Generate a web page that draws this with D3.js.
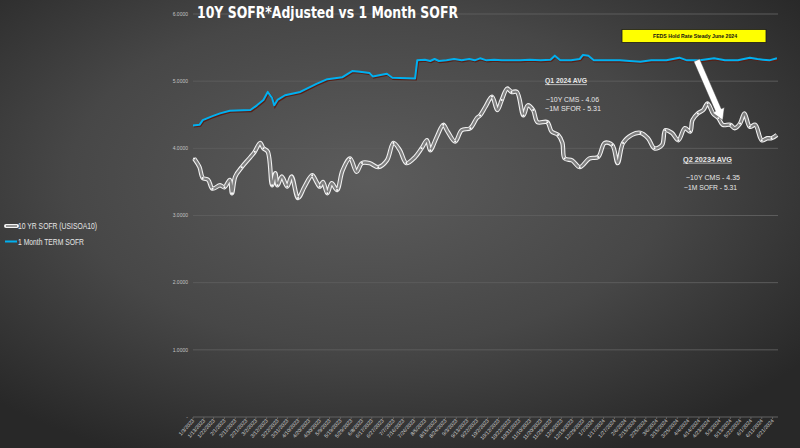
<!DOCTYPE html>
<html><head><meta charset="utf-8">
<script src="https://cdn.jsdelivr.net/npm/d3@7"></script>
<style>html,body{margin:0;padding:0;background:#333;} svg{display:block}</style>
</head><body>
<svg id="c" width="800" height="448"></svg>
<script>
// ---------- DATA ----------
const sofr10Dates = ["2023-01-04","2023-01-09","2023-01-12","2023-01-17","2023-01-21","2023-01-28","2023-02-01","2023-02-06","2023-02-08","2023-02-11","2023-02-17","2023-02-25","2023-03-01","2023-03-06","2023-03-09","2023-03-13","2023-03-17","2023-03-20","2023-03-22","2023-03-26","2023-03-31","2023-04-04","2023-04-10","2023-04-16","2023-04-23","2023-04-27","2023-04-30","2023-05-03","2023-05-07","2023-05-11","2023-05-16","2023-05-21","2023-05-28","2023-06-03","2023-06-08","2023-06-15","2023-06-23","2023-07-01","2023-07-07","2023-07-13","2023-07-19","2023-07-27","2023-08-02","2023-08-07","2023-08-10","2023-08-16","2023-08-22","2023-08-26","2023-09-02","2023-09-08","2023-09-16","2023-09-22","2023-09-25","2023-09-30","2023-10-06","2023-10-11","2023-10-15","2023-10-20","2023-10-24","2023-10-29","2023-11-04","2023-11-08","2023-11-13","2023-11-17","2023-11-26","2023-11-30","2023-12-06","2023-12-10","2023-12-12","2023-12-19","2023-12-26","2024-01-04","2024-01-12","2024-01-18","2024-01-25","2024-01-30","2024-02-04","2024-02-12","2024-02-20","2024-02-27","2024-03-04","2024-03-11","2024-03-14","2024-03-20","2024-03-26","2024-04-01","2024-04-06","2024-04-08","2024-04-13","2024-04-18","2024-04-22","2024-04-27","2024-05-02","2024-05-06","2024-05-13","2024-05-17","2024-05-22","2024-05-26","2024-05-31","2024-06-05","2024-06-11","2024-06-16","2024-06-20","2024-06-25"];
const sofr10Values = [3.85,3.72,3.56,3.53,3.40,3.45,3.42,3.53,3.33,3.58,3.72,3.87,3.95,4.08,4.00,3.95,3.45,3.63,3.45,3.58,3.43,3.58,3.26,3.43,3.60,3.50,3.43,3.50,3.33,3.48,3.38,3.67,3.85,3.65,3.78,3.78,3.72,3.82,4.08,3.97,3.78,3.87,4.00,4.12,3.97,4.17,4.35,4.25,4.10,4.27,4.30,4.45,4.49,4.62,4.77,4.57,4.72,4.89,4.84,4.84,4.49,4.64,4.57,4.39,4.39,4.25,4.20,4.08,3.85,3.82,3.72,3.85,3.87,4.08,4.05,3.78,4.08,4.20,4.23,4.15,4.00,4.05,4.27,4.23,4.12,4.30,4.25,4.42,4.52,4.57,4.67,4.52,4.45,4.35,4.35,4.30,4.37,4.52,4.32,4.35,4.12,4.15,4.15,4.20];

const term1mDates = ["2023-01-03","2023-01-09","2023-01-12","2023-01-21","2023-01-28","2023-02-06","2023-02-25","2023-03-03","2023-03-09","2023-03-13","2023-03-17","2023-03-19","2023-03-22","2023-03-29","2023-04-12","2023-04-27","2023-05-07","2023-05-21","2023-05-30","2023-06-06","2023-06-15","2023-06-18","2023-07-01","2023-07-06","2023-07-27","2023-07-29","2023-08-05","2023-08-10","2023-08-14","2023-08-18","2023-08-25","2023-09-01","2023-09-08","2023-09-15","2023-09-20","2023-09-25","2023-10-01","2023-10-08","2023-10-15","2023-10-22","2023-11-01","2023-11-10","2023-11-20","2023-11-29","2023-12-03","2023-12-08","2023-12-18","2023-12-26","2023-12-29","2024-01-03","2024-01-08","2024-01-20","2024-02-01","2024-02-10","2024-02-20","2024-03-01","2024-03-15","2024-03-27","2024-04-03","2024-04-15","2024-04-28","2024-05-08","2024-05-20","2024-05-31","2024-06-07","2024-06-12","2024-06-18","2024-06-25"];
const term1mValues = [4.34,4.35,4.42,4.48,4.52,4.56,4.57,4.64,4.72,4.84,4.75,4.64,4.72,4.79,4.84,4.96,5.03,5.06,5.15,5.14,5.12,5.07,5.11,5.05,5.04,5.31,5.32,5.30,5.33,5.30,5.31,5.33,5.31,5.33,5.31,5.34,5.31,5.32,5.31,5.31,5.31,5.32,5.31,5.32,5.38,5.31,5.31,5.33,5.39,5.38,5.31,5.31,5.31,5.30,5.29,5.31,5.31,5.35,5.31,5.31,5.34,5.31,5.31,5.35,5.33,5.32,5.31,5.34];

const yTicks = [0,1,2,3,4,5,6];
const yTickLabels = ["-","1.0000","2.0000","3.0000","4.0000","5.0000","6.0000"];
const xTickLabels = ["1/3/2023","1/13/2023","1/22/2023","2/1/2023","2/11/2023","2/21/2023","3/2/2023","3/12/2023","3/22/2023","3/31/2023","4/10/2023","4/20/2023","4/30/2023","5/9/2023","5/19/2023","5/29/2023","6/8/2023","6/17/2023","6/27/2023","7/7/2023","7/16/2023","7/26/2023","8/5/2023","8/15/2023","8/24/2023","9/3/2023","9/13/2023","9/22/2023","10/2/2023","10/12/2023","10/22/2023","10/31/2023","11/10/2023","11/20/2023","11/29/2023","12/9/2023","12/19/2023","12/29/2023","1/7/2024","1/17/2024","1/27/2024","2/6/2024","2/15/2024","2/25/2024","3/6/2024","3/15/2024","3/25/2024","4/4/2024","4/14/2024","4/23/2024","5/3/2024","5/13/2024","5/22/2024","6/1/2024","6/11/2024","6/21/2024"];
const xDomain = ["2023-01-03","2024-06-26"];

const seriesNames = ["10 YR SOFR (USISOA10)","1 Month TERM SOFR"];
const titleText = "10Y SOFR*Adjusted vs 1 Month SOFR";

// ---------- SETUP ----------
const W = 800, H = 448;
const svg = d3.select("#c");
const parseISO = d3.timeParse("%Y-%m-%d");
const parseMDY = d3.timeParse("%m/%d/%Y");

const defs = svg.append("defs");
const rg = defs.append("radialGradient").attr("id","bg")
  .attr("cx","46%").attr("cy","40%").attr("r","68%");
rg.append("stop").attr("offset","0%").attr("stop-color","#5c5c5c");
rg.append("stop").attr("offset","55%").attr("stop-color","#474747");
rg.append("stop").attr("offset","100%").attr("stop-color","#282828");
svg.append("rect").attr("width",W).attr("height",H).attr("fill","url(#bg)");

const x = d3.scaleTime().domain(xDomain.map(parseISO)).range([193, 778]);
const y = d3.scaleLinear().domain([0, 6]).range([417, 14]);

// gridlines
svg.append("g").selectAll("line").data(yTicks.filter(d => d > 0)).join("line")
  .attr("x1", 193).attr("x2", 778)
  .attr("y1", d => y(d)).attr("y2", d => y(d))
  .attr("stroke", "#5c5c5c").attr("stroke-width", 1);

// y tick labels
svg.append("g").selectAll("text").data(yTicks).join("text")
  .attr("x", 188).attr("y", d => y(d)).attr("dy", "0.35em")
  .attr("text-anchor", "end")
  .attr("font-family", "Liberation Sans, Arial, sans-serif")
  .attr("font-size", 5).attr("fill", "#c4c4c4")
  .text((d, i) => yTickLabels[i]);

// x axis baseline + ticks
svg.append("line").attr("x1", 193).attr("x2", 778).attr("y1", y(0)).attr("y2", y(0))
  .attr("stroke", "#626262").attr("stroke-width", 1);
const xt = xTickLabels.map(parseMDY);
svg.append("g").selectAll("line").data(xt).join("line")
  .attr("x1", d => x(d)).attr("x2", d => x(d))
  .attr("y1", y(0)).attr("y2", y(0) + 2)
  .attr("stroke", "#626262");
svg.append("g").selectAll("text").data(xt).join("text")
  .attr("transform", d => `translate(${x(d) + 1.5},${y(0) + 4}) rotate(-48)`)
  .attr("text-anchor", "end")
  .attr("font-family", "Liberation Sans, Arial, sans-serif")
  .attr("font-size", 5.2).attr("fill", "#d2d2d2")
  .text((d, i) => xTickLabels[i]);

// ---------- SERIES ----------
const blueData = term1mDates.map((d, i) => ({ date: parseISO(d), v: term1mValues[i] }));
const whiteData = sofr10Dates.map((d, i) => ({ date: parseISO(d), v: sofr10Values[i] }));

const lineLin = d3.line().x(d => x(d.date)).y(d => y(d.v));
const lineSmooth = d3.line().x(d => x(d.date)).y(d => y(d.v)).curve(d3.curveCatmullRom.alpha(0.5));

// blue with dark-red shadow
svg.append("path").datum(blueData).attr("d", lineLin)
  .attr("fill", "none").attr("stroke", "#5a1f14").attr("stroke-width", 2.2)
  .attr("transform", "translate(0.8,1)");
svg.append("path").datum(blueData).attr("d", lineLin)
  .attr("fill", "none").attr("stroke", "#00b0f0").attr("stroke-width", 2)
  .attr("stroke-linejoin", "round");

// white outlined gray line
svg.append("path").datum(whiteData).attr("d", lineSmooth)
  .attr("fill", "none").attr("stroke", "#f2f2f2").attr("stroke-width", 4.4)
  .attr("stroke-linejoin", "round");
svg.append("path").datum(whiteData).attr("d", lineSmooth)
  .attr("fill", "none").attr("stroke", "#808080").attr("stroke-width", 2.3)
  .attr("stroke-linejoin", "round");
svg.append("g").selectAll("circle").data(whiteData.filter((d, i) => i % 2 === 0)).join("circle")
  .attr("cx", d => x(d.date)).attr("cy", d => y(d.v)).attr("r", 1)
  .attr("fill", "#ffffff");

// ---------- TITLE ----------
svg.append("text").attr("x", 197).attr("y", 17.5)
  .attr("font-family", "DejaVu Sans, Liberation Sans, Arial, sans-serif")
  .attr("font-weight", "bold").attr("font-size", 15).attr("fill", "#ffffff")
  .attr("textLength", 261).attr("lengthAdjust", "spacingAndGlyphs")
  .text(titleText);

// ---------- LEGEND ----------
const lg = svg.append("g").attr("font-family", "Liberation Sans, Arial, sans-serif")
  .attr("font-size", 8.5).attr("fill", "#e6e6e6");
lg.append("line").attr("x1", 6).attr("x2", 17).attr("y1", 226).attr("y2", 226)
  .attr("stroke", "#f4f4f4").attr("stroke-width", 4).attr("stroke-linecap", "round");
lg.append("line").attr("x1", 6).attr("x2", 17).attr("y1", 226).attr("y2", 226)
  .attr("stroke", "#8c8c8c").attr("stroke-width", 1.8);
lg.append("text").attr("x", 18).attr("y", 229).attr("textLength", 79).attr("lengthAdjust", "spacingAndGlyphs").text(seriesNames[0]);
lg.append("line").attr("x1", 5).attr("x2", 17).attr("y1", 241.5).attr("y2", 241.5)
  .attr("stroke", "#00b0f0").attr("stroke-width", 2);
lg.append("text").attr("x", 18).attr("y", 244.5).attr("textLength", 66).attr("lengthAdjust", "spacingAndGlyphs").text(seriesNames[1]);

// ---------- ANNOTATIONS ----------
const ann = svg.append("g").attr("font-family", "Liberation Sans, Arial, sans-serif").attr("fill", "#e8e8e8");
function label(txt, lx, ly, len, opts = {}) {
  const t = ann.append("text").attr("x", lx).attr("y", ly).attr("font-size", opts.size || 7)
    .attr("textLength", len).attr("lengthAdjust", "spacingAndGlyphs").text(txt);
  if (opts.bold) t.attr("font-weight", "bold");
  if (opts.underline) ann.append("line").attr("x1", lx).attr("x2", lx + len)
    .attr("y1", ly + 1.6).attr("y2", ly + 1.6).attr("stroke", "#e8e8e8").attr("stroke-width", 0.7);
}
label("Q1 2024 AVG", 545, 83, 42, { bold: true, underline: true });
label("~10Y CMS -  4.06", 546, 101.5, 53);
label("~1M SFOR -  5.31", 545, 110.5, 56);
label("Q2  20234 AVG", 683, 161.5, 49, { bold: true, underline: true });
label("~10Y CMS -  4.35", 686, 180, 54);
label("~1M SOFR - 5.31", 684, 189.5, 53);

// yellow box
svg.append("rect").attr("x", 622).attr("y", 29.5).attr("width", 144).attr("height", 13)
  .attr("fill", "#ffff00").attr("stroke", "#1a1a1a").attr("stroke-width", 0.8);
svg.append("text").attr("x", 695).attr("y", 38.3).attr("text-anchor", "middle")
  .attr("font-family", "Liberation Sans, Arial, sans-serif").attr("font-weight", "bold")
  .attr("font-size", 6).attr("fill", "#111")
  .attr("textLength", 84).attr("lengthAdjust", "spacingAndGlyphs")
  .text("FEDS Hold Rate Steady June 2024");

// white arrow from blue line toward the 10Y line
const aStart = [x(parseISO("2024-04-12")), y(5.31)];
const aEnd = [x(parseISO("2024-05-06")), y(4.42)];
(function drawArrow(s, e) {
  const dx = e[0] - s[0], dy = e[1] - s[1], L = Math.hypot(dx, dy);
  const ux = dx / L, uy = dy / L, px = -uy, py = ux;
  const sw = 3.2, hw = 6.5, hl = 11;
  const bx = e[0] - ux * hl, by = e[1] - uy * hl;
  const pts = [
    [s[0] + px * sw, s[1] + py * sw], [bx + px * sw, by + py * sw], [bx + px * hw, by + py * hw],
    [e[0], e[1]], [bx - px * hw, by - py * hw], [bx - px * sw, by - py * sw], [s[0] - px * sw, s[1] - py * sw]
  ];
  svg.append("polygon").attr("points", pts.map(p => p.join(",")).join(" "))
    .attr("fill", "#ffffff").attr("stroke", "#444").attr("stroke-width", 0.5);
})(aStart, aEnd);
</script>
</body></html>
